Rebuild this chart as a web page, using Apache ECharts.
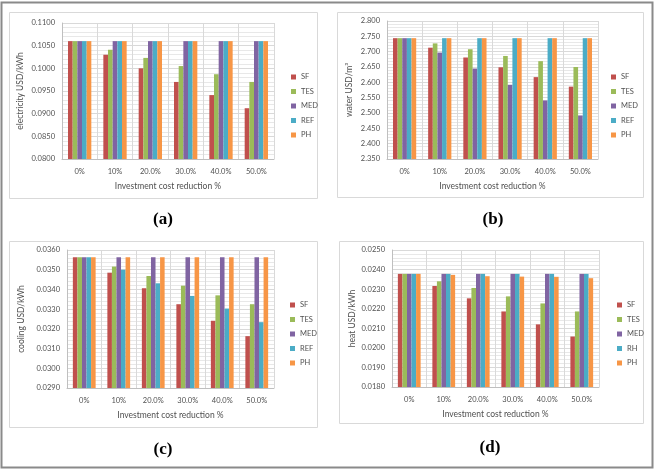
<!DOCTYPE html>
<html>
<head>
<meta charset="utf-8">
<script src="https://cdn.jsdelivr.net/npm/echarts@6/dist/echarts.min.js"></script>
<style>
  html, body { margin: 0; padding: 0; background: #fff; }
  #chart { width: 659px; height: 470px; }
</style>
</head>
<body>
<div id="chart"></div>
<script>
// x categories, shared by all four panels
const categories = ['0%', '10%', '20.0%', '30.0%', '40.0%', '50.0%']
const names = ['SF', 'TES', 'MED', 'REF', 'PH']
const namesD = ['SF', 'TES', 'MED', 'RH', 'PH']
const colors = ['#C0504D', '#9BBB59', '#8064A2', '#4BACC6', '#F79646']

// (a) electricity USD/kWh
const elecSF = [0.1060, 0.1030, 0.1000, 0.0970, 0.0941, 0.0912]
const elecTES = [0.1060, 0.1041, 0.1023, 0.1005, 0.0987, 0.0970]
const elecMED = [0.1060, 0.1060, 0.1060, 0.1060, 0.1060, 0.1060]
const elecREF = [0.1060, 0.1060, 0.1060, 0.1060, 0.1060, 0.1060]
const elecPH = [0.1060, 0.1060, 0.1060, 0.1060, 0.1060, 0.1060]

// (b) water USD/m3
const waterSF = [2.744, 2.713, 2.681, 2.649, 2.617, 2.586]
const waterTES = [2.744, 2.727, 2.708, 2.686, 2.669, 2.650]
const waterMED = [2.744, 2.697, 2.645, 2.592, 2.541, 2.492]
const waterREF = [2.744, 2.744, 2.744, 2.744, 2.744, 2.744]
const waterPH = [2.744, 2.744, 2.744, 2.744, 2.744, 2.744]

// (c) cooling USD/kWh
const coolSF = [0.03563, 0.03485, 0.03406, 0.03325, 0.03241, 0.03163]
const coolTES = [0.03563, 0.03516, 0.03468, 0.03419, 0.03370, 0.03325]
const coolMED = [0.03563, 0.03563, 0.03563, 0.03563, 0.03563, 0.03563]
const coolREF = [0.03563, 0.03500, 0.03431, 0.03367, 0.03303, 0.03234]
const coolPH = [0.03563, 0.03563, 0.03563, 0.03563, 0.03563, 0.03563]

// (d) heat USD/kWh
const heatSF = [0.02378, 0.02316, 0.02253, 0.02186, 0.02120, 0.02058]
const heatTES = [0.02378, 0.02340, 0.02306, 0.02263, 0.02227, 0.02186]
const heatMED = [0.02378, 0.02378, 0.02378, 0.02378, 0.02378, 0.02378]
const heatRH = [0.02378, 0.02378, 0.02378, 0.02378, 0.02378, 0.02378]
const heatPH = [0.02378, 0.02373, 0.02366, 0.02364, 0.02363, 0.02356]

const font = 'Lato, "Liberation Sans", sans-serif'

const panels = [
  { grid: { left: 62, top: 23, width: 212, height: 136 }, legend: { left: 286, top: 68 },
    min: 0.08, max: 0.11, interval: 0.005, digits: 4, yName: 'electricity USD/kWh', yGap: 37,
    names: names, data: [elecSF, elecTES, elecMED, elecREF, elecPH] },
  { grid: { left: 387, top: 21, width: 211, height: 138 }, legend: { left: 606, top: 68 },
    min: 2.35, max: 2.8, interval: 0.05, digits: 3, yName: 'water USD/m³', yGap: 33,
    names: names, data: [waterSF, waterTES, waterMED, waterREF, waterPH] },
  { grid: { left: 67, top: 250, width: 207, height: 138 }, legend: { left: 285, top: 296 },
    min: 0.029, max: 0.036, interval: 0.001, digits: 4, yName: 'cooling USD/kWh', yGap: 41,
    names: names, data: [coolSF, coolTES, coolMED, coolREF, coolPH] },
  { grid: { left: 392, top: 250, width: 207, height: 137 }, legend: { left: 612, top: 296 },
    min: 0.018, max: 0.025, interval: 0.001, digits: 4, yName: 'heat USD/kWh', yGap: 35,
    names: namesD, data: [heatSF, heatTES, heatMED, heatRH, heatPH] }
]

const captionFont = 'bold 17px "Liberation Serif", serif'

const option = {
  animation: false,
  color: colors,
  textStyle: { fontFamily: font },
  grid: [], xAxis: [], yAxis: [], legend: [], series: [],
  graphic: [
    // outer frame
    { type: 'rect', shape: { x: 1.5, y: 2.5, width: 651, height: 465 },
      style: { fill: 'none', stroke: '#8a8a8a', lineWidth: 2 } },
    // chart boxes
    { type: 'rect', shape: { x: 9.5, y: 12.5, width: 308, height: 186 }, style: { fill: 'none', stroke: '#d9d9d9' } },
    { type: 'rect', shape: { x: 337.5, y: 12.5, width: 306, height: 185 }, style: { fill: 'none', stroke: '#d9d9d9' } },
    { type: 'rect', shape: { x: 9.5, y: 241.5, width: 308, height: 186 }, style: { fill: 'none', stroke: '#d9d9d9' } },
    { type: 'rect', shape: { x: 339.5, y: 241.5, width: 304, height: 182 }, style: { fill: 'none', stroke: '#d9d9d9' } },
    // panel captions
    { type: 'text', x: 163, y: 220, style: { text: '(a)', font: captionFont, fill: '#000', align: 'center', verticalAlign: 'middle' } },
    { type: 'text', x: 493, y: 220, style: { text: '(b)', font: captionFont, fill: '#000', align: 'center', verticalAlign: 'middle' } },
    { type: 'text', x: 163, y: 450, style: { text: '(c)', font: captionFont, fill: '#000', align: 'center', verticalAlign: 'middle' } },
    { type: 'text', x: 490, y: 448, style: { text: '(d)', font: captionFont, fill: '#000', align: 'center', verticalAlign: 'middle' } }
  ]
}

panels.forEach(function (p, i) {
  option.grid.push(p.grid)
  option.xAxis.push({
    type: 'category',
    gridIndex: i,
    data: categories,
    name: 'Investment cost reduction %',
    nameLocation: 'middle',
    nameGap: 23,
    nameTextStyle: { fontSize: 8.5, color: '#505050' },
    axisLine: { lineStyle: { color: '#bfbfbf' } },
    axisTick: { show: false },
    axisLabel: { fontSize: 7.5, color: '#505050', margin: 9 },
    splitLine: { show: true, lineStyle: { color: '#d9d9d9' } }
  })
  option.yAxis.push({
    type: 'value',
    gridIndex: i,
    min: p.min,
    max: p.max,
    interval: p.interval,
    name: p.yName,
    nameLocation: 'middle',
    nameGap: p.yGap,
    nameTextStyle: { fontSize: 8.5, color: '#505050' },
    axisLine: { show: true, lineStyle: { color: '#bfbfbf' } },
    axisTick: { show: false },
    axisLabel: { fontSize: 7.5, color: '#505050', margin: 7,
      formatter: function (v) { return v.toFixed(p.digits) } },
    splitLine: { lineStyle: { color: '#d9d9d9' } },
    minorTick: { show: false, splitNumber: 5 },
    minorSplitLine: { show: true, lineStyle: { color: '#e8e8e8' } }
  })
  option.legend.push({
    orient: 'vertical',
    left: p.legend.left,
    top: p.legend.top,
    itemWidth: 5,
    itemHeight: 5,
    itemGap: 6.5,
    icon: 'rect',
    textStyle: { fontSize: 7.5, color: '#505050' },
    data: p.names.map(function (n, k) { return { name: n + '_' + i, itemStyle: { color: colors[k] } } }),
    formatter: function (n) { return n.split('_')[0] }
  })
  p.data.forEach(function (vals, k) {
    option.series.push({
      type: 'bar',
      name: p.names[k] + '_' + i,
      xAxisIndex: i,
      yAxisIndex: i,
      data: vals,
      barGap: '0%',
      barCategoryGap: '34%',
      itemStyle: { color: colors[k] }
    })
  })
})

const chart = echarts.init(document.getElementById('chart'))
chart.setOption(option)
</script>
</body>
</html>
